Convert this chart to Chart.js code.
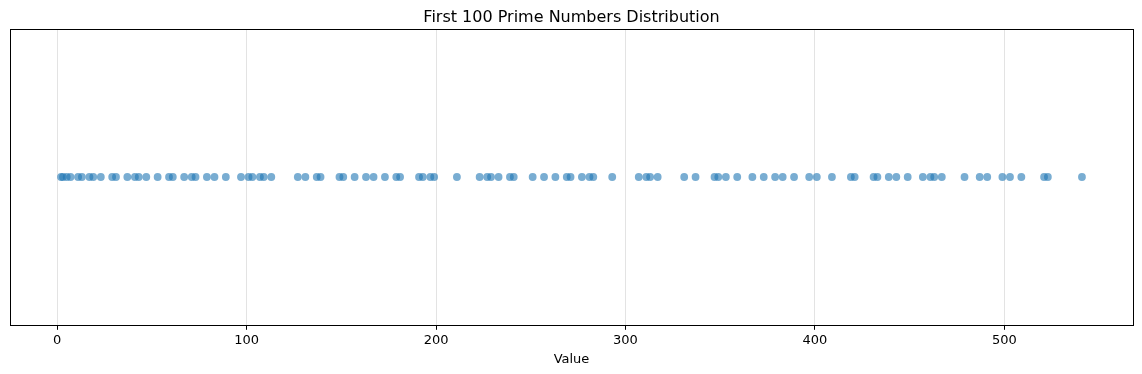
<!DOCTYPE html>
<html>
<head>
<meta charset="utf-8">
<script src="https://cdn.jsdelivr.net/npm/chart.js@4"></script>
<style>
  html, body { margin: 0; padding: 0; background: #fff; }
  #wrap { width: 1142px; height: 374px; }
</style>
</head>
<body>
<div id="wrap"><canvas id="chart"></canvas></div>
<script>
// first 100 primes, all drawn on one row
const primes = [2, 3, 5, 7, 11, 13, 17, 19, 23, 29, 31, 37, 41, 43, 47, 53, 59, 61, 67, 71,
  73, 79, 83, 89, 97, 101, 103, 107, 109, 113, 127, 131, 137, 139, 149, 151, 157, 163, 167, 173,
  179, 181, 191, 193, 197, 199, 211, 223, 227, 229, 233, 239, 241, 251, 257, 263, 269, 271, 277, 281,
  283, 293, 307, 311, 313, 317, 331, 337, 347, 349, 353, 359, 367, 373, 379, 383, 389, 397, 401, 409,
  419, 421, 431, 433, 439, 443, 449, 457, 461, 463, 467, 479, 487, 491, 499, 503, 509, 521, 523, 541];
const xTicks = [0, 100, 200, 300, 400, 500];
const titleText = 'First 100 Prime Numbers Distribution';
const xLabel = 'Value';

const points = primes.map(p => ({ x: p, y: 0 }));

// box around the plot area, like matplotlib spines
const frame = {
  id: 'frame',
  afterDraw(chart) {
    const { ctx, chartArea: a } = chart;
    ctx.save();
    ctx.strokeStyle = '#000';
    ctx.lineWidth = 1;
    ctx.strokeRect(Math.round(a.left) + 0.5, Math.round(a.top) + 0.5,
      Math.round(a.right - a.left), Math.round(a.bottom - a.top));
    ctx.restore();
  }
};

Chart.defaults.font.family = '"DejaVu Sans", sans-serif';
Chart.defaults.color = '#000';

new Chart(document.getElementById('chart'), {
  type: 'scatter',
  data: {
    datasets: [{
      data: points,
      backgroundColor: 'rgba(31,119,180,0.6)',
      borderWidth: 0,
      pointRadius: 3.9,
      pointHoverRadius: 3.9
    }]
  },
  options: {
    responsive: true,
    maintainAspectRatio: false,
    animation: false,
    layout: { padding: { left: 10, right: 9, top: 0, bottom: 7 } },
    plugins: {
      legend: { display: false },
      tooltip: { enabled: false },
      title: {
        display: true,
        text: titleText,
        font: { size: 16, weight: 'normal' },
        padding: { top: 8, bottom: 2 }
      }
    },
    scales: {
      x: {
        type: 'linear',
        min: -24.95,
        max: 567.95,
        afterBuildTicks: s => { s.ticks = xTicks.map(v => ({ value: v })); },
        grid: {
          color: 'rgba(176,176,176,0.35)',
          lineWidth: 1,
          tickColor: '#000',
          tickLength: 5,
          drawTicks: true
        },
        border: { display: false },
        ticks: { font: { size: 13 }, padding: 3, maxRotation: 0 },
        title: {
          display: true,
          text: xLabel,
          font: { size: 13 },
          padding: { top: 0, bottom: 0 }
        }
      },
      y: {
        display: false,
        min: -1,
        max: 1
      }
    }
  },
  plugins: [frame]
});
</script>
</body>
</html>
